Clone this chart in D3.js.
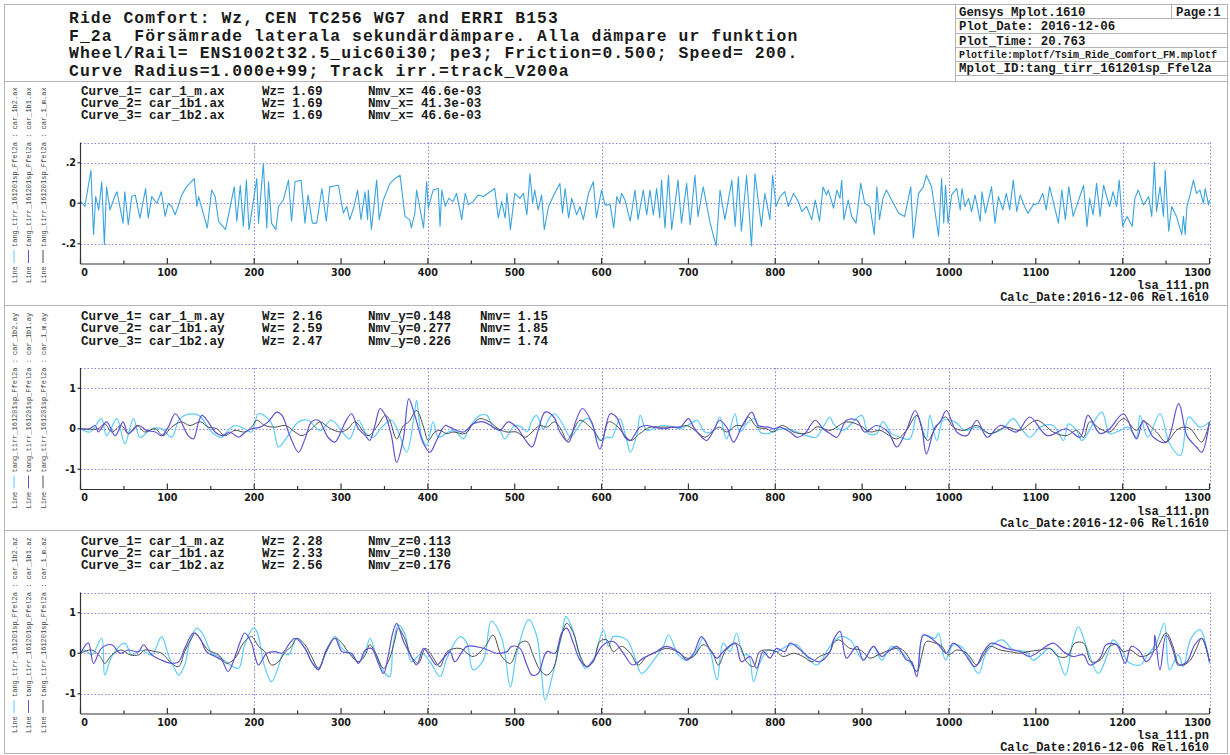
<!DOCTYPE html>
<meta charset="utf-8">
<script src="https://d3js.org/d3.v7.min.js"></script>
<style>
  body { margin: 0; background: #fff; }
  text { font-family: "Liberation Mono", "Courier New", monospace; fill: #1a1a1a; }
</style>
<div id="chart"></div>
<script>
// ---- header texts
const titleLines = [
  "Ride Comfort: Wz, CEN TC256 WG7 and ERRI B153",
  "F_2a  Försämrade laterala sekundärdämpare. Alla dämpare ur funktion",
  "Wheel/Rail= ENS1002t32.5_uic60i30; pe3; Friction=0.500; Speed= 200.",
  "Curve Radius=1.000e+99; Track irr.=track_V200a"
];
const infoRows = ["Gensys Mplot.1610", "Plot_Date: 2016-12-06", "Plot_Time: 20.763",
  "Plotfile:mplotf/Tsim_Ride_Comfort_FM.mplotf", "Mplot_ID:tang_tirr_161201sp_Ffel2a"];
const pageLabel = "Page:1";

// ---- axis ticks
const xMajor = d3.range(0, 1301, 100);
const xMinor = d3.range(50, 1300, 100);
const xGrid = [200, 400, 600, 800, 1000, 1200, 1300];
const yTicks1 = [-0.2, 0, 0.2], yLabels1 = ["-.2", "0", ".2"];
const yTicks23 = [-1, 0, 1], yLabels23 = ["-1", "0", "1"];

// ---- curve info texts
const infoX = [
  ["Curve_1= car_1_m.ax", "Wz= 1.69", "Nmv_x= 46.6e-03"],
  ["Curve_2= car_1b1.ax", "Wz= 1.69", "Nmv_x= 41.3e-03"],
  ["Curve_3= car_1b2.ax", "Wz= 1.69", "Nmv_x= 46.6e-03"]];
const infoY = [
  ["Curve_1= car_1_m.ay", "Wz= 2.16", "Nmv_y=0.148", "Nmv= 1.15"],
  ["Curve_2= car_1b1.ay", "Wz= 2.59", "Nmv_y=0.277", "Nmv= 1.85"],
  ["Curve_3= car_1b2.ay", "Wz= 2.47", "Nmv_y=0.226", "Nmv= 1.74"]];
const infoZ = [
  ["Curve_1= car_1_m.az", "Wz= 2.28", "Nmv_z=0.113"],
  ["Curve_2= car_1b1.az", "Wz= 2.33", "Nmv_z=0.130"],
  ["Curve_3= car_1b2.az", "Wz= 2.56", "Nmv_z=0.176"]];

// ---- series [distance, value]
const ax = [[0,0.011],[5,-0.016],[12,0.163],[15,-0.154],[17.5,0.033],[21,-0.033],[24.5,0.106],[27.5,-0.203],[30,0.081],[34,-0.033],[40,0.041],[42,0.057],[49,-0.098],[51,0.057],[55,-0.106],[59,0.033],[63,0.041],[68.5,-0.073],[75,0.073],[78,-0.073],[82,0.033],[88,0],[93,0.057],[97.5,-0.065],[101,0],[105,-0.016],[109,-0.057],[113,-0.008],[116.5,0.041],[122,0.081],[131,0.122],[134,-0.016],[136,0.033],[146,-0.122],[151,0.065],[155,0.033],[159,-0.089],[167,-0.13],[177,0.081],[180,-0.089],[184,0.089],[187.5,-0.114],[191,0.114],[194,-0.13],[203,0.122],[205,-0.098],[210.5,0.195],[214.5,-0.122],[216.5,0.106],[220,-0.098],[225,-0.13],[228,-0.016],[233.5,0.016],[239.5,0.114],[243,-0.089],[247,0.106],[254,0.114],[258.5,-0.098],[262,0.041],[267,-0.098],[272,-0.098],[278,0.073],[283,-0.089],[287,0.081],[297,0.089],[302.6,-0.049],[306.5,-0.016],[310,-0.081],[315,-0.016],[319,0.065],[323,-0.081],[327.6,0.057],[330.6,-0.081],[331.4,0.065],[335,-0.13],[341,0.114],[344,-0.081],[348.7,0.016],[356.4,0.098],[362,0.122],[368,0.138],[370,0.065],[373.6,-0.065],[379,-0.081],[381,-0.122],[385,-0.049],[387,0.065],[395,-0.122],[398.6,0.106],[400.5,-0.024],[406,0.065],[412,0.073],[414,-0.114],[416,0.065],[420,-0.016],[424,0.024],[429,0.008],[433,0.049],[439,-0.081],[443,0.049],[446.6,-0.008],[452,0.008],[458,0.041],[464,0.033],[477,0.073],[481,-0.073],[485,0.008],[489,-0.073],[491,0.049],[495,-0.13],[500,0.049],[506,0.024],[510,0.049],[514,-0.057],[517.5,0.146],[520.6,0],[523,0.065],[527,-0.033],[531,0.041],[534,-0.13],[539,-0.016],[545,0.041],[552,0.098],[555,-0.049],[558,0.073],[562,-0.073],[565.6,0.024],[571.4,-0.057],[575,-0.016],[579,-0.081],[585,0.049],[590.5,0.106],[594,-0.073],[600,0.065],[604,-0.008],[610,-0.008],[614,-0.122],[617.5,0.033],[621,0],[623,0.049],[627,0.016],[633,-0.089],[638.5,0.065],[642,-0.081],[648,0.065],[652,-0.057],[655.7,0.065],[659.6,-0.057],[663.4,0.073],[667,-0.073],[669,0.114],[673,-0.122],[677,0.138],[680.7,-0.13],[688,0.114],[692,-0.098],[698,0.098],[702,-0.106],[707.5,0.138],[711,-0.065],[717,0.081],[725,-0.098],[732,-0.211],[736.4,0.065],[742,-0.081],[750,0.114],[753.8,-0.114],[757.5,0.13],[761,-0.138],[767,0.138],[772.6,-0.211],[776.6,0.146],[784,-0.114],[788,0.049],[793.8,-0.081],[797,0.138],[800.8,-0.016],[805.5,0.033],[811,0.057],[815,-0.016],[821,0.049],[826.6,0.008],[830.5,-0.041],[836,-0.016],[842,-0.081],[846,0.016],[851,-0.089],[855,0.081],[859,0.041],[861,0.065],[865,0.008],[867,-0.024],[871,0.065],[874.5,0.024],[876.5,0.114],[879,-0.081],[884,0.016],[888,-0.065],[893,-0.098],[896,0.008],[898.4,0.098],[903,0],[909,-0.016],[914,-0.154],[917,0.081],[920,-0.081],[924,0.024],[928,0.065],[934,0.016],[942,-0.049],[949,-0.065],[956,0.081],[959,-0.171],[965,0.049],[970.5,0.081],[974,0.138],[980,0.081],[988,-0.163],[991.5,0.122],[994,-0.098],[996,0.089],[999,-0.098],[1003,0.041],[1009,0.073],[1013,-0.033],[1015,0.073],[1018.5,-0.016],[1022.5,0.024],[1026,-0.041],[1030,0.041],[1036,-0.089],[1038,0.057],[1042,-0.049],[1049,0.081],[1053,-0.098],[1057,0.033],[1062,-0.033],[1066,0.049],[1070,-0.033],[1074,0.114],[1078,-0.041],[1082,0.041],[1087,-0.016],[1091,-0.049],[1097,-0.008],[1103,0],[1108,0.049],[1112,-0.033],[1116,0.081],[1126,-0.098],[1130,0.065],[1134,-0.081],[1138,0.081],[1143,-0.065],[1155,0.089],[1159,-0.114],[1162,0.024],[1166,-0.057],[1170,0.098],[1174,-0.065],[1178,0.089],[1185,-0.016],[1189,0.057],[1193,-0.016],[1196,0.114],[1200,-0.114],[1205,-0.065],[1211,-0.114],[1214,0.024],[1218,0.065],[1224,-0.008],[1230,0.033],[1233.5,-0.065],[1236.5,0.203],[1239,-0.041],[1243,0.081],[1247,-0.065],[1249,0.163],[1253,-0.138],[1256.5,-0.016],[1262,-0.065],[1268,-0.154],[1270,-0.065],[1272,-0.154],[1274,-0.016],[1278,0.049],[1281.5,0.114],[1285,0.049],[1289,0.065],[1293,0],[1295,0.073],[1299,-0.008],[1300,0.016]];

const ayCar1m = [[0,0],[20,0],[28,0.12],[36,-0.08],[47,0.08],[55,-0.12],[65,0.08],[74,-0.08],[86,0],[95,-0.17],[105,0.04],[116,0.17],[126,0.08],[138,0.17],[147,0.04],[157,0],[166,-0.17],[178,-0.04],[189,-0.08],[197,0.04],[203,0.21],[212,0.08],[224,0.04],[236,0.08],[247,-0.08],[255,-0.17],[266,0],[276,0.17],[285,0.04],[299,-0.08],[308,0],[316,0.17],[331,-0.17],[341,0.04],[351,0.33],[356,0.21],[364,-0.25],[372,0.08],[378,0.17],[387,0.45],[395,0.04],[400.5,-0.29],[408,-0.08],[414,-0.04],[421.6,-0.12],[429,-0.08],[443,-0.12],[452,0.12],[460,0.25],[471,0.17],[481,0],[491,-0.08],[502,-0.08],[512,-0.21],[520,-0.08],[529,0.08],[537,0.04],[546,0.17],[554,-0.04],[560,-0.29],[567.5,-0.04],[575,0.21],[585,0.08],[592,-0.08],[600,-0.29],[608,0.17],[617,0.08],[627,-0.17],[634,-0.29],[644,-0.12],[656,0.04],[667,0.04],[679,0.04],[690,0.04],[698,0.08],[710,-0.08],[719,-0.21],[729,-0.04],[736,0.04],[744,-0.08],[755,0.08],[763,0.08],[769,0.29],[779,0.04],[790,0],[798,-0.08],[807,0.08],[813,0.04],[821,-0.08],[830.5,-0.12],[840,-0.08],[847,0.04],[851.5,0.04],[863,-0.04],[882,0.17],[897.5,0.08],[909,-0.08],[920.5,-0.04],[940,-0.25],[951,-0.04],[963,0.33],[972,-0.21],[976,-0.29],[984,0],[996,0.29],[1005,0.04],[1016,-0.04],[1032,0.08],[1047,-0.12],[1066,0.04],[1082,-0.04],[1101,0.21],[1120,-0.08],[1135,-0.17],[1147,-0.04],[1155,-0.21],[1162,0.17],[1174,0],[1185,-0.08],[1201,0.25],[1216,-0.04],[1224,0.17],[1239,-0.08],[1250,-0.33],[1262,-0.04],[1270,0.04],[1278,0],[1291,-0.33],[1300,0.17]];

const ayCar1b1 = [[0,0],[10,0],[17,0.08],[20.5,-0.08],[30,0.17],[40,-0.17],[49,0.17],[55,-0.12],[67,0.08],[76,-0.04],[86,-0.08],[93.5,-0.17],[101,0.04],[109,0.37],[115,0.21],[124,-0.17],[130,-0.25],[136,0.17],[140,0.33],[147,0.17],[155,-0.08],[164,-0.17],[172,-0.08],[182,-0.21],[190,-0.08],[197,0],[207,0.04],[216,0.17],[226,0.41],[232,0.33],[241,-0.17],[251,-0.58],[258.5,-0.25],[266,0.17],[274,0.21],[285,-0.21],[293,-0.33],[305,0.17],[312,0.37],[320,0],[328,-0.17],[333,-0.29],[339,0.08],[345,0.5],[351,0.33],[358,-0.17],[364,-0.83],[372,-0.21],[378,0.74],[385,0.33],[395,-0.37],[402.5,-0.58],[410,-0.29],[420,0.08],[425,0.04],[441,-0.08],[452,0.12],[464,0.17],[475,0.04],[483,-0.04],[492.5,0.17],[502,0.04],[514,-0.33],[520,-0.45],[527,-0.04],[535,0.41],[545,0.29],[552,-0.08],[562,-0.33],[570,0.17],[578,0.5],[588.5,0.17],[598,-0.5],[610,0.37],[617,0.29],[627,-0.21],[633,-0.29],[644,0.04],[652,0.08],[660,0.04],[671,0],[683,0.04],[690.5,0.04],[700,0.25],[706,0.04],[713.5,-0.17],[721,-0.29],[729,-0.04],[736,0.21],[744,0.04],[752,-0.33],[761,0.04],[765.5,0.21],[773,0.41],[780.5,0.08],[792,0.04],[798,0],[805,0.04],[817,-0.08],[825,-0.21],[834,-0.12],[846,0.21],[855,0],[863,-0.12],[871,-0.21],[882,0.21],[894,0.21],[903,-0.08],[916.5,0.08],[930,-0.08],[940,-0.45],[951,-0.04],[961,0.45],[968.5,0.04],[974,-0.62],[984,0.04],[990,0.17],[997,0.45],[1009,-0.08],[1020.5,-0.17],[1032,0.21],[1044,-0.21],[1059,0.08],[1078,-0.08],[1093,0.29],[1113,-0.17],[1135,0],[1151,-0.21],[1160,0.33],[1174,-0.12],[1185,0],[1201,0.37],[1216,-0.25],[1224,0.21],[1235.5,-0.21],[1250,-0.33],[1264.5,0.62],[1274,-0.17],[1285,-0.45],[1291,-0.58],[1300,0.17]];

const ayCar1b2 = [[0,0],[11,-0.08],[24,0.25],[30,-0.17],[42,0.25],[51,-0.37],[61,0.25],[68.5,-0.21],[82,0],[93.5,0],[105,-0.21],[113,0.21],[120,0.33],[136,0.33],[151,-0.08],[162.5,-0.21],[170,-0.04],[178,0.08],[189,0],[197,-0.08],[205,0.37],[216,0.25],[222,0.04],[228,-0.45],[239,-0.17],[251,0.17],[262,0.21],[276,-0.04],[289,0.21],[305,-0.17],[310,-0.25],[320,0.21],[329,-0.12],[337,-0.21],[347,0.04],[358,0.21],[366,-0.08],[375.5,-0.58],[385,0.45],[387,0.7],[393,-0.21],[398.6,-0.41],[406,0.17],[412,-0.21],[423.5,-0.08],[429,-0.04],[433,-0.08],[441,-0.25],[448,0.04],[460,0.33],[468,0.33],[475,0.04],[483,-0.04],[488.5,-0.25],[500,0.08],[508,0.04],[514,-0.08],[520,0.21],[525,0.33],[533,0],[540.6,0.29],[546,0.37],[556,0.08],[564,-0.21],[573,0.04],[579,0.21],[585,0.25],[590.5,0.04],[598,-0.29],[606,-0.21],[612,-0.21],[621,0.25],[629,-0.29],[633,-0.58],[641,-0.12],[644.5,0.33],[652,-0.04],[663.6,0.04],[671,0.08],[683,0.04],[690.5,0],[702,0.12],[710,0.21],[719,-0.08],[729,-0.04],[736,0.29],[744,-0.25],[753.6,0.37],[759,-0.08],[769,0.17],[776.6,0.25],[782.5,-0.08],[792,-0.12],[800,-0.04],[813,0],[825,-0.08],[836,-0.17],[847,-0.21],[855,0.04],[863,0.29],[867,0.12],[878,-0.04],[899.5,0.33],[907,-0.12],[916.5,-0.12],[924,0.17],[934,-0.12],[944,-0.21],[955,-0.25],[963,0.33],[974,-0.25],[978,0.33],[986,-0.29],[993.5,0.21],[1007,0.17],[1018.5,-0.04],[1032,0.04],[1047,-0.12],[1062,0],[1074,0.25],[1082,0.04],[1093,-0.21],[1105,0.04],[1120,0.08],[1132,-0.29],[1137.5,0.12],[1147,-0.04],[1153,-0.29],[1176,0.41],[1185,-0.12],[1197,-0.04],[1206,0.04],[1216,-0.21],[1220,0.33],[1229,-0.21],[1243,0.37],[1254,-0.37],[1266.5,-0.66],[1276,0.29],[1289,0.04],[1300,0.17]];

const azCar1m = [[0,0],[13,0.08],[22.5,-0.08],[28,-0.25],[36,-0.04],[47,0.08],[57,-0.04],[67,-0.04],[74,0.08],[86,0.04],[93.5,0],[105,-0.25],[113,-0.33],[120,0.04],[128,0.37],[132,0.5],[139.5,0.29],[147,0.08],[159,-0.04],[168,-0.25],[178,-0.12],[187.5,0.25],[197,0.41],[205,0.17],[212,0.04],[220,-0.29],[228,-0.21],[236,0.04],[243,0.17],[249,0.37],[258.5,0.21],[266,-0.08],[274,-0.37],[283,0.04],[293,0.37],[301,0.25],[308,0.04],[320,-0.21],[328,-0.04],[333,0.21],[339,0.04],[349,-0.37],[356,-0.12],[362,0.33],[366,0.62],[374,0.33],[381,-0.08],[389,-0.25],[397,0.12],[404,-0.04],[414,-0.33],[422,0.04],[437,0.12],[452,-0.08],[466,0.17],[475,0.45],[485,-0.08],[495,-0.25],[506,0.25],[514,0.29],[521,-0.04],[529,-0.41],[537,-0.54],[544.6,-0.37],[552,0.29],[560,0.74],[567.5,0.5],[575,-0.04],[583,-0.33],[590.5,-0.21],[598,0.29],[606,0.33],[613.5,0.04],[623,0.17],[633,0],[642.3,-0.29],[652,-0.08],[663.6,0.04],[675,0.12],[687,0.04],[698,-0.12],[706,-0.08],[717,0.21],[727,0.04],[734.5,-0.29],[742,0.04],[748,0.17],[753.6,0.25],[759.5,0.17],[767,-0.21],[775,-0.33],[782,0.04],[792,0.08],[801.5,0.04],[809,-0.08],[821,0],[832,-0.08],[842,-0.21],[851,-0.08],[863,0.04],[867,0.25],[873,0.33],[886,0.12],[898,0.08],[909,-0.12],[918.5,-0.04],[932,0.08],[944,0.12],[953,-0.08],[963,-0.45],[968.5,-0.08],[974,0.29],[984,0.25],[992,0.17],[999,-0.04],[1009,0.08],[1020.5,0],[1032,-0.29],[1040,-0.04],[1047,0.17],[1059,0.08],[1070,0.04],[1082,0],[1091,0.04],[1105,0.08],[1116,0.12],[1126,-0.08],[1136,-0.08],[1145,0.25],[1155,0.25],[1164,-0.21],[1174,-0.17],[1185,0.17],[1193,0.21],[1201,0.04],[1209,0.08],[1220,-0.08],[1229,-0.04],[1239,0.12],[1250,0.5],[1258,0.17],[1264,-0.25],[1270,-0.29],[1278,-0.17],[1285,0.12],[1291,0.37],[1300,-0.21]];

const azCar1b1 = [[0,0],[9,0.25],[15,-0.25],[24,0.12],[36,0.21],[45.5,0],[55,0.08],[67,0.04],[72.4,0.21],[82,-0.04],[93.5,-0.17],[105,-0.25],[113,-0.21],[120,0.12],[130,0.5],[137.6,0.37],[145,0.04],[155,-0.08],[162.5,-0.17],[170,-0.45],[178,-0.08],[184,0.29],[189,0.5],[197,0.25],[201,-0.08],[205,-0.29],[214.5,0],[224,0.04],[232,0],[241,0.25],[247,0.37],[258.5,0.12],[266,-0.21],[274,-0.41],[283,0.08],[293,0.37],[301,0.04],[312,0],[320,-0.25],[328,0.08],[335,0.12],[343,-0.25],[349,-0.5],[354.5,-0.04],[360,0.54],[364,0.74],[372,0.29],[379,0],[387,-0.29],[395,0.12],[402.5,-0.08],[410,-0.29],[418,-0.12],[425.5,0.04],[431,-0.21],[445,0.17],[464,0.12],[479,0],[491,0.04],[496.5,0.17],[506,0.12],[514,-0.29],[520,-0.54],[527,-0.5],[537,0.04],[546.4,0],[554,0.5],[560,0.62],[567.5,0.25],[575,-0.17],[583,-0.33],[590.5,-0.17],[602,0.21],[613.5,0.29],[625,0],[636,-0.29],[648,-0.12],[660,0],[675,0.17],[690.5,0],[698,-0.17],[706,0],[715,0.41],[725,0.08],[733,-0.12],[740,0.04],[753.6,0.25],[761,-0.21],[771,-0.08],[778.5,-0.37],[786,0.04],[794,-0.12],[801.5,0.12],[811,0.04],[817,0.25],[829,0.08],[840,-0.12],[851,-0.21],[863,0.04],[867,0.33],[874.5,0.54],[882,-0.12],[894,0.17],[901.5,-0.17],[913,0.17],[922.5,-0.08],[928,0],[940,0.17],[951,-0.17],[957,-0.21],[963,-0.58],[970.5,0.45],[982,0.33],[988,0.21],[997,0],[1005,0.25],[1016.5,0.04],[1030,-0.33],[1040,0.04],[1049,0.25],[1066,0.12],[1082,0.04],[1093,-0.08],[1120,0.25],[1132,0.04],[1143,-0.08],[1155,-0.04],[1162,-0.29],[1174,-0.12],[1181,0.21],[1193,0.21],[1203,-0.25],[1210,0.17],[1220,0.04],[1227,-0.21],[1235.5,0.04],[1237,0.45],[1243,-0.41],[1250,0.45],[1258,0.08],[1264,-0.29],[1274,-0.21],[1283,0.21],[1291,0.37],[1300,-0.21]];

const azCar1b2 = [[0,0],[5,0.08],[13,-0.04],[24.4,0.37],[28,-0.54],[36,-0.08],[51,0.25],[59,-0.04],[70,0.08],[82,-0.04],[93.5,0.41],[101,-0.04],[109,-0.41],[113,-0.54],[120,-0.29],[126,0.29],[134,0.62],[141.4,0.45],[151,0],[159,-0.08],[170,-0.25],[182,-0.37],[189,0.21],[199,0.62],[203,0.54],[212,-0.33],[220,-0.7],[228,-0.33],[233.5,0],[239.5,-0.04],[249,0.37],[258.5,0.12],[266,-0.21],[274,-0.37],[283,0.04],[293,0.41],[301,0.12],[312,-0.04],[320,-0.21],[328,0.04],[333.4,0.37],[341,-0.08],[350.6,-0.5],[356,-0.58],[360,0.21],[366,0.7],[374,0.45],[381,-0.21],[393,0],[402.5,-0.21],[414,-0.58],[422,-0.12],[437,0.41],[445,0.25],[452,-0.41],[464,-0.17],[473,0.79],[485,0.37],[495,-0.83],[502,-0.04],[516,0.83],[525,0.45],[531,-0.54],[535,-1.16],[544.6,-0.45],[554,0.45],[559,0.91],[567.5,0.54],[575,-0.08],[581,-0.37],[590.5,-0.17],[602,0.58],[608,0.17],[613.5,0.41],[629,0.33],[638.5,-0.12],[646,-0.5],[660,-0.17],[671,0.17],[677,0.45],[688.5,-0.04],[698,-0.17],[708,0],[717,0.37],[725,0.04],[733,-0.66],[740,0.25],[748,0.04],[755.5,0.5],[763,-0.04],[769,-0.04],[775,-0.7],[782,-0.25],[792,0.08],[801.5,0.04],[813,0.17],[825,0.21],[836,-0.08],[848,-0.29],[863,0.17],[874.5,0.41],[886,0.33],[901.5,-0.17],[913,0.17],[922.5,-0.17],[934,0.17],[944,0.04],[955,-0.21],[963,-0.45],[970.5,0.45],[984,0.37],[988,0.5],[996,-0.17],[1005,0.21],[1016.5,0.12],[1034,-0.5],[1043.5,0.04],[1061,0.33],[1074,0.08],[1089,0.04],[1097,-0.17],[1116,0.12],[1124,-0.04],[1134,-0.54],[1143,0.33],[1149,0.66],[1159,0.12],[1172,-0.5],[1183,0],[1189,0.33],[1199,0.08],[1206,-0.21],[1220,-0.29],[1229,-0.04],[1239,0.25],[1248,0.74],[1254,-0.41],[1264,-0.04],[1270,-0.33],[1278,0.33],[1289,0.58],[1300,-0.25]];

// ---- styling
const colGray = "#4d4d4d", colPurple = "#5f52d2", colLight = "#5cccf8", colX = "#3ba4de";
const gridCol = "#8a86e0";

const W = 1230, H = 755;
const svg = d3.select("#chart").append("svg").attr("width", W).attr("height", H);

// page frame
const frame = svg.append("g").attr("stroke", "#b4b4b4").attr("fill", "none");
frame.append("rect").attr("x", 4.5).attr("y", 4.5).attr("width", 1223).attr("height", 749);
[81.5, 305.5, 530.5].forEach(y => frame.append("line").attr("x1", 4.5).attr("x2", 1227.5).attr("y1", y).attr("y2", y));
frame.append("line").attr("x1", 955.5).attr("x2", 955.5).attr("y1", 4.5).attr("y2", 81.5);
[18.5, 33.5, 47.5, 61.5, 75.5].forEach(y => frame.append("line").attr("x1", 955.5).attr("x2", 1227.5).attr("y1", y).attr("y2", y));
frame.append("line").attr("x1", 1171.5).attr("x2", 1171.5).attr("y1", 4.5).attr("y2", 18.5);

// title
svg.append("g").selectAll("text").data(titleLines).join("text")
  .attr("x", 69).attr("y", (d, i) => 23 + i * 17.6)
  .attr("font-size", 16.4).attr("letter-spacing", 1.05).attr("font-weight", "bold")
  .attr("xml:space", "preserve").text(d => d);

// info box
const infoBaselines = [15.5, 30, 44.5, 57.5, 72];
svg.append("g").selectAll("text").data(infoRows).join("text")
  .attr("x", 959).attr("y", (d, i) => infoBaselines[i])
  .attr("font-size", (d, i) => i === 3 ? 10 : 12.4).attr("font-weight", "bold")
  .text(d => d);
svg.append("text").attr("x", 1176).attr("y", 15.5).attr("font-size", 12.4)
  .attr("font-weight", "bold").text(pageLabel);

// ---- panels
const x = d3.scaleLinear().domain([0, 1300]).range([80.5, 1209.5]);
const infoCols = [81, 262, 368, 480];

const panels = [
  { top: 142.5, domain: [-0.3, 0.3], ticks: yTicks1, labels: yLabels1, info: infoX, suffix: "ax", curve: d3.curveLinear,
    series: [{ data: ax, color: colX, w: 1.1 }] },
  { top: 368, domain: [-1.5, 1.5], ticks: yTicks23, labels: yLabels23, info: infoY, suffix: "ay", curve: d3.curveCatmullRom.alpha(0.5),
    series: [{ data: ayCar1b2, color: colLight, w: 1.2 }, { data: ayCar1m, color: colGray, w: 1 }, { data: ayCar1b1, color: colPurple, w: 1.2 }] },
  { top: 592.5, domain: [-1.5, 1.5], ticks: yTicks23, labels: yLabels23, info: infoZ, suffix: "az", curve: d3.curveCatmullRom.alpha(0.5),
    series: [{ data: azCar1b2, color: colLight, w: 1.2 }, { data: azCar1m, color: colGray, w: 1 }, { data: azCar1b1, color: colPurple, w: 1.2 }] }
];
const plotH = 121.5;

panels.forEach(p => {
  const bottom = p.top + plotH;
  const y = d3.scaleLinear().domain(p.domain).range([bottom, p.top]);
  const g = svg.append("g");

  // curve info lines
  p.info.forEach((row, r) => {
    row.forEach((t, c) => {
      g.append("text").attr("x", infoCols[c]).attr("y", p.top - 48 + r * 12.3)
        .attr("font-size", 12.6).attr("font-weight", "bold")
        .attr("xml:space", "preserve").text(t);
    });
  });

  // grid
  const grid = g.append("g").attr("stroke", gridCol).attr("stroke-width", 1)
    .attr("stroke-dasharray", "1.5,2").attr("fill", "none");
  p.ticks.concat([p.domain[1]]).forEach(v => {
    grid.append("line").attr("x1", x(0)).attr("x2", x(1300))
      .attr("y1", Math.round(y(v)) + 0.5).attr("y2", Math.round(y(v)) + 0.5);
  });
  xGrid.forEach(v => {
    grid.append("line").attr("x1", Math.round(x(v)) + 0.5).attr("x2", Math.round(x(v)) + 0.5)
      .attr("y1", p.top).attr("y2", bottom);
  });

  // series
  const line = d3.line().x(d => x(d[0])).y(d => y(d[1])).curve(p.curve);
  p.series.forEach(s => {
    g.append("path").datum(s.data).attr("d", line).attr("fill", "none")
      .attr("stroke", s.color).attr("stroke-width", s.w).attr("stroke-linejoin", "round");
  });

  // axes
  const axG = g.append("g").attr("stroke", "#333").attr("stroke-width", 1.2);
  axG.append("line").attr("x1", x(0)).attr("x2", x(0)).attr("y1", p.top).attr("y2", bottom);
  axG.append("line").attr("x1", x(0)).attr("x2", x(1300)).attr("y1", bottom).attr("y2", bottom);
  xMajor.forEach(v => axG.append("line").attr("x1", x(v)).attr("x2", x(v)).attr("y1", bottom).attr("y2", bottom - 6));
  xMinor.forEach(v => axG.append("line").attr("x1", x(v)).attr("x2", x(v)).attr("y1", bottom).attr("y2", bottom - 3.5));
  p.ticks.forEach(v => axG.append("line").attr("x1", x(0) - 3).attr("x2", x(0)).attr("y1", y(v)).attr("y2", y(v)));

  g.append("g").selectAll("text").data(xMajor).join("text")
    .attr("x", d => d === 0 ? x(d) + 4 : d === 1300 ? x(d) - 12 : x(d))
    .attr("y", bottom + 11.5).attr("text-anchor", "middle")
    .style("font-family", "'DejaVu Sans', sans-serif").attr("font-size", 9.6).attr("font-weight", "bold")
    .text(d => d);
  g.append("g").selectAll("text").data(p.ticks).join("text")
    .attr("x", 76).attr("y", d => y(d) + 3.5).attr("text-anchor", "end")
    .style("font-family", "'DejaVu Sans', sans-serif").attr("font-size", 9.6).attr("font-weight", "bold")
    .text((d, i) => p.labels[i]);

  // file / date stamps
  g.append("text").attr("x", 1209).attr("y", bottom + 25).attr("text-anchor", "end")
    .attr("font-size", 12).attr("font-weight", "bold").text("lsa_111.pn");
  g.append("text").attr("x", 1209).attr("y", bottom + 37.4).attr("text-anchor", "end")
    .attr("font-size", 12).attr("font-weight", "bold").text("Calc_Date:2016-12-06 Rel.1610");

  // vertical legend
  const legend = [["car_1b2", colLight], ["car_1b1", colPurple], ["car_1_m", colGray]];
  const y0 = bottom + 19;
  legend.forEach((l, i) => {
    const cx = 14 + i * 14.5;
    g.append("text").attr("transform", `translate(${cx + 2.5},${y0}) rotate(-90)`)
      .attr("font-size", 7).style("fill", "#444").text("Line");
    g.append("line").attr("x1", cx).attr("x2", cx).attr("y1", y0 - 20).attr("y2", y0 - 33)
      .attr("stroke", l[1]).attr("stroke-width", 1);
    g.append("text").attr("transform", `translate(${cx + 2.5},${y0 - 36}) rotate(-90)`)
      .attr("font-size", 7).style("fill", "#444").attr("xml:space", "preserve")
      .text(`tang_tirr_161201sp_Ffel2a : ${l[0]}.${p.suffix}`);
  });
});
</script>
